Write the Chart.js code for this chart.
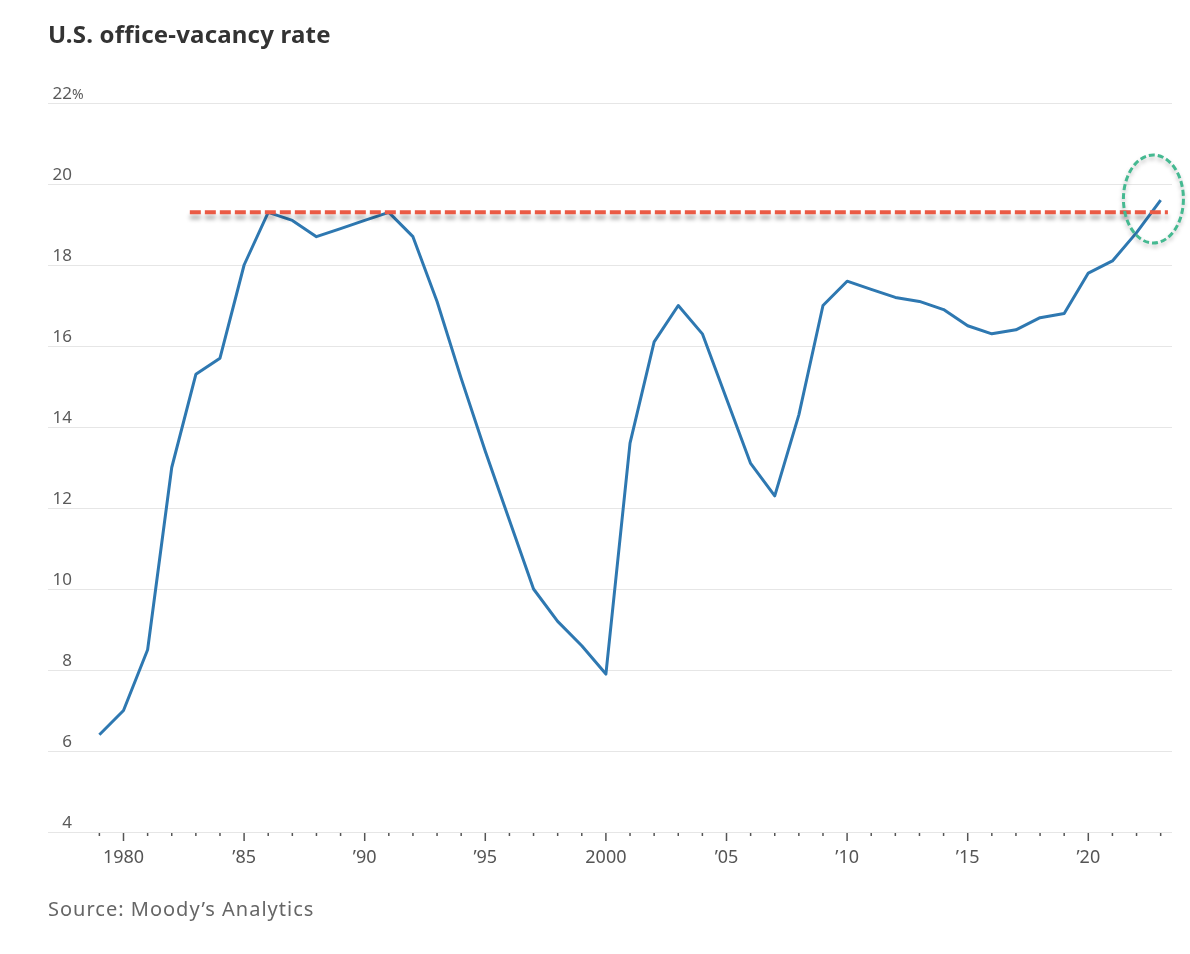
<!DOCTYPE html>
<html>
<head>
<meta charset="utf-8">
<title>U.S. office-vacancy rate</title>
<script src="https://cdn.jsdelivr.net/npm/chart.js@4.4.0/dist/chart.umd.min.js"></script>
<style>
  html, body { margin: 0; padding: 0; background: #fff; }
  body { width: 1190px; height: 954px; position: relative; overflow: hidden; font-family: "Noto Sans", sans-serif; }
  #chart-box { position: absolute; left: 0; top: 0; width: 1190px; height: 954px; }
  #title { position: absolute; left: 48px; top: 17px; font-size: 24px; font-weight: 700; color: #333; letter-spacing: 0.2px; }
  #source { position: absolute; left: 48px; top: 895px; font-size: 20px; color: #666; letter-spacing: 1px; }
</style>
</head>
<body>
<div id="chart-box"><canvas id="vacancy-chart" width="1190" height="954"></canvas></div>
<div id="title">U.S. office-vacancy rate</div>
<div id="source">Source: Moody’s Analytics</div>

<script>
// Yearly office-vacancy rate
const years = [
  1979, 1980, 1981, 1982, 1983, 1984, 1985, 1986, 1987, 1988,
  1989, 1990, 1991, 1992, 1993, 1994, 1995, 1996, 1997, 1998,
  1999, 2000, 2001, 2002, 2003, 2004, 2005, 2006, 2007, 2008,
  2009, 2010, 2011, 2012, 2013, 2014, 2015, 2016, 2017, 2018,
  2019, 2020, 2021, 2022, 2023,
];
const vacancyRate = [
  6.4, 7.0, 8.5, 13.0, 15.3, 15.7, 18.0, 19.3, 19.1, 18.7,
  18.9, 19.1, 19.3, 18.7, 17.1, 15.2, 13.4, 11.7, 10.0, 9.2,
  8.6, 7.9, 13.6, 16.1, 17.0, 16.3, 14.7, 13.1, 12.3, 14.3,
  17.0, 17.6, 17.4, 17.2, 17.1, 16.9, 16.5, 16.3, 16.4, 16.7,
  16.8, 17.8, 18.1, 18.8, 19.6,
];

// Axis ticks
const yTicks = [4, 6, 8, 10, 12, 14, 16, 18, 20, 22];
const xLabelYears = [1980, 1985, 1990, 1995, 2000, 2005, 2010, 2015, 2020];
const xLabels = ["1980", "’85", "’90", "’95", "2000", "’05", "’10", "’15", "’20"];

// Previous peak marker (dashed red) and the circled latest value
const previousPeak = 19.3;
const peakLineYears = [1982.75, 2023.3];
const circleCenter = [2022.7, 19.63];

Chart.defaults.font.family = '"Noto Sans", sans-serif';

// shadow under the red dashed line
const shadowPlugin = {
  id: "peakShadow",
  beforeDatasetDraw(chart, args) {
    if (args.meta.label !== "peak") return;
    const ctx = chart.ctx;
    ctx.save();
    ctx.shadowColor = "rgba(0, 0, 0, 0.32)";
    ctx.shadowBlur = 4;
    ctx.shadowOffsetY = 5;
  },
  afterDatasetDraw(chart, args) {
    if (args.meta.label !== "peak") return;
    chart.ctx.restore();
  },
};

// y labels sit above the gridlines, x axis gets small year ticks
const axisPlugin = {
  id: "axisDecor",
  beforeDatasetsDraw(chart) {
    const ctx = chart.ctx;
    const yScale = chart.scales.y;
    const xScale = chart.scales.x;

    ctx.save();
    ctx.fillStyle = "#5a5a5a";
    ctx.textBaseline = "alphabetic";
    yScale.ticks.forEach((t) => {
      const py = yScale.getPixelForValue(t.value);
      ctx.font = '17px "Noto Sans", sans-serif';
      ctx.textAlign = "right";
      ctx.fillText(String(t.value), 72, py - 4);
      if (t.value === yTicks[yTicks.length - 1]) {
        ctx.font = '14px "Noto Sans", sans-serif';
        ctx.textAlign = "left";
        ctx.fillText("%", 72, py - 4);
      }
    });

    // year ticks along the baseline
    const base = yScale.getPixelForValue(yTicks[0]);
    ctx.strokeStyle = "#555";
    ctx.lineWidth = 1.5;
    years.forEach((yr) => {
      const px = xScale.getPixelForValue(yr);
      const len = yr % 5 === 0 ? 8 : 3;
      ctx.beginPath();
      ctx.moveTo(px, base + 1);
      ctx.lineTo(px, base + 1 + len);
      ctx.stroke();
    });
    ctx.restore();
  },
  afterDatasetsDraw(chart) {
    // dashed green circle around the latest value
    const ctx = chart.ctx;
    const cx = chart.scales.x.getPixelForValue(circleCenter[0]);
    const cy = chart.scales.y.getPixelForValue(circleCenter[1]);
    ctx.save();
    ctx.shadowColor = "rgba(0, 0, 0, 0.25)";
    ctx.shadowBlur = 4;
    ctx.shadowOffsetY = 3;
    ctx.strokeStyle = "#45b991";
    ctx.lineWidth = 3;
    ctx.setLineDash([6, 3]);
    ctx.beginPath();
    ctx.ellipse(cx, cy, 30, 44, 0, 0, Math.PI * 2);
    ctx.stroke();
    ctx.restore();
  },
};

function renderVacancyChart() {
  const canvas = document.getElementById("vacancy-chart");
  const ctx = canvas.getContext("2d");

  const data = {
    datasets: [
      {
        label: "peak",
        data: peakLineYears.map((yr) => ({ x: yr, y: previousPeak })),
        borderColor: "#ea5a45",
        borderWidth: 4,
        borderDash: [11, 4],
        pointRadius: 0,
        order: 0,
      },
      {
        label: "vacancy",
        data: years.map((yr, i) => ({ x: yr, y: vacancyRate[i] })),
        borderColor: "#2e78b1",
        borderWidth: 3,
        borderJoinStyle: "round",
        pointRadius: 0,
        tension: 0,
        order: 1,
      },
    ],
  };

  const config = {
    type: "line",
    data: data,
    options: {
      responsive: false,
      animation: false,
      layout: {
        padding: { left: 48, right: 18, top: 103, bottom: 82 },
      },
      plugins: {
        legend: { display: false },
        tooltip: { enabled: false },
      },
      scales: {
        x: {
          type: "linear",
          min: 1976.87,
          max: 2023.47,
          afterBuildTicks: (scale) => {
            scale.ticks = years.map((yr) => ({ value: yr }));
          },
          afterFit: (scale) => {
            scale.height = 40;
          },
          grid: { display: false, drawTicks: false },
          border: { display: false },
          ticks: {
            autoSkip: false,
            maxRotation: 0,
            padding: 15,
            color: "#555",
            font: { size: 18 },
            callback: (value) => {
              const idx = xLabelYears.indexOf(value);
              return idx >= 0 ? xLabels[idx] : "";
            },
          },
        },
        y: {
          min: yTicks[0],
          max: yTicks[yTicks.length - 1],
          afterBuildTicks: (scale) => {
            scale.ticks = yTicks.map((v) => ({ value: v }));
          },
          grid: { color: "#e6e6e6", lineWidth: 1, drawTicks: false },
          border: { display: false },
          ticks: { display: false },
        },
      },
    },
    plugins: [shadowPlugin, axisPlugin],
  };

  new Chart(ctx, config);
}

renderVacancyChart();
</script>
</body>
</html>
